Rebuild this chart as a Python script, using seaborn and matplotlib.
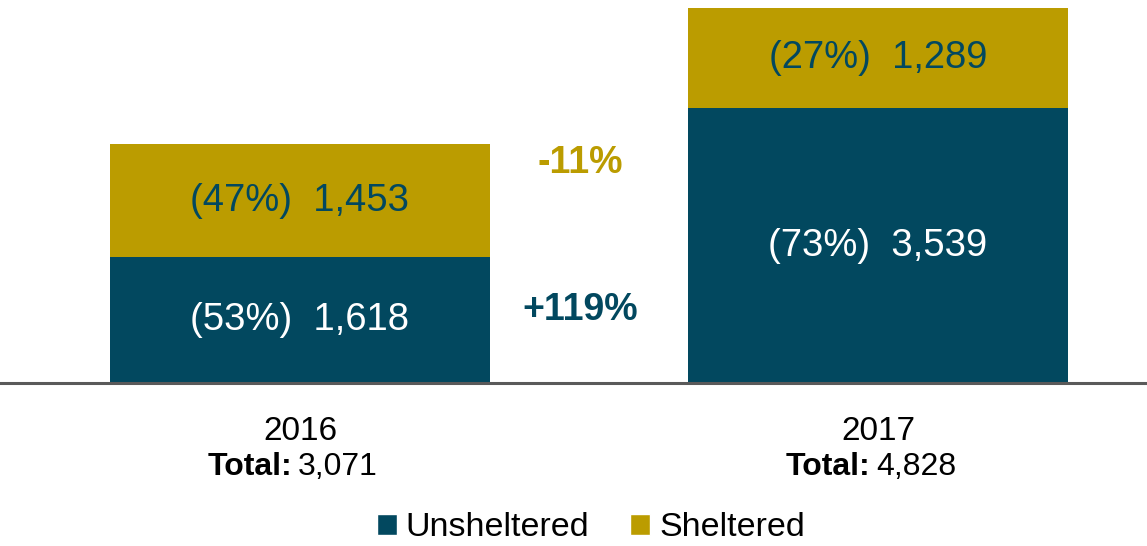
import matplotlib
matplotlib.use("Agg")
import matplotlib.pyplot as plt
import seaborn as sns
import pandas as pd
from matplotlib.patches import Patch

years = ["2016", "2017"]
unsheltered = [1618, 3539]
sheltered = [1453, 1289]
totals = [3071, 4828]
unsh_pct = ["(53%)", "(73%)"]
shel_pct = ["(47%)", "(27%)"]
change_sheltered = "-11%"
change_unsheltered = "+119%"

TEAL = "#02485F"
GOLD = "#BB9C00"

sns.set_theme(style="white")
plt.rcParams["font.family"] = ["Liberation Sans", "DejaVu Sans"]

fig = plt.figure(figsize=(11.47, 5.46), dpi=100)
ax = fig.add_axes([0, (546 - 383) / 546, 1, 383 / 546])

df = pd.DataFrame({"year": years, "unsheltered": unsheltered,
                   "sheltered": sheltered, "total": totals})

sns.barplot(data=df, x="year", y="total", color=GOLD, width=0.657,
            saturation=1, ax=ax, order=years, linewidth=0, edgecolor="none")
sns.barplot(data=df, x="year", y="unsheltered", color=TEAL, width=0.657,
            saturation=1, ax=ax, order=years, linewidth=0, edgecolor="none")

ax.set_xlim(-300 / 578, -300 / 578 + 1147 / 578)
ax.set_ylim(0, 4828 * 383 / 375)
for s in ["top", "left", "right"]:
    ax.spines[s].set_visible(False)
ax.spines["bottom"].set_color("#5a5a5a")
ax.spines["bottom"].set_linewidth(2.2)
ax.set_xticks([])
ax.set_yticks([])
ax.set_xlabel("")
ax.set_ylabel("")

fs = 27.5
for i in range(len(years)):
    u, s = unsheltered[i], sheltered[i]
    ax.text(i, u / 2, f"{unsh_pct[i]}  {u:,}", ha="center", va="center",
            color="white", fontsize=fs)
    ax.text(i, u + s / 2, f"{shel_pct[i]}  {s:,}", ha="center", va="center",
            color=TEAL, fontsize=fs)
    ax.annotate(years[i], xy=(i, 0), xycoords=("data", "axes fraction"),
                xytext=(0, -48), textcoords="offset pixels",
                ha="center", va="center", fontsize=24, color="black")
    ax.annotate("Total:", xy=(i, 0), xycoords=("data", "axes fraction"),
                xytext=(-8, -84), textcoords="offset pixels",
                ha="right", va="center", fontsize=23, fontweight="bold",
                color="black")
    ax.annotate(f"{totals[i]:,}", xy=(i, 0), xycoords=("data", "axes fraction"),
                xytext=(-2, -84), textcoords="offset pixels",
                ha="left", va="center", fontsize=23, color="black")

ax.text(0.485, 2830, change_sheltered, ha="center", va="center",
        color=GOLD, fontsize=27, fontweight="bold")
ax.text(0.485, 945, change_unsheltered, ha="center", va="center",
        color=TEAL, fontsize=27, fontweight="bold")

handles = [Patch(facecolor=TEAL, label="Unsheltered"),
           Patch(facecolor=GOLD, label="Sheltered")]
fig.legend(handles=handles, loc="center", bbox_to_anchor=(0.515, 18 / 546),
           ncol=2, frameon=False, fontsize=24.5, handlelength=0.6,
           handleheight=0.6, handletextpad=0.25, columnspacing=1.2,
           borderpad=0, labelcolor="black")

fig.savefig("out.png", dpi=100)
